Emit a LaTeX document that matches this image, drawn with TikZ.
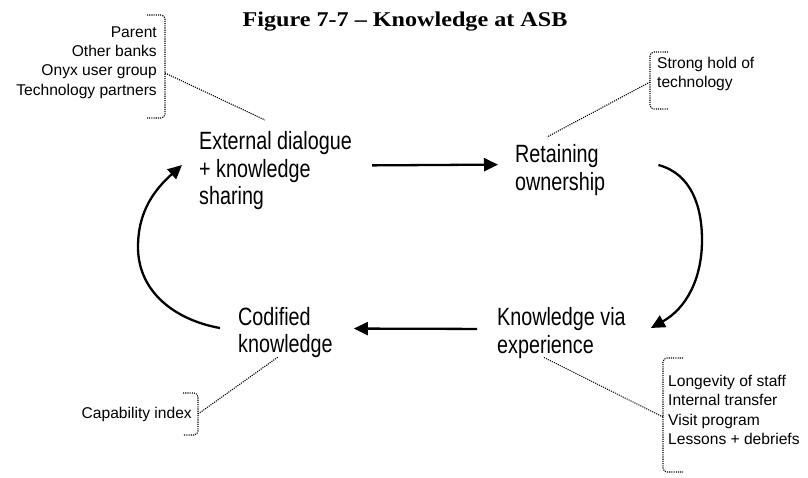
\documentclass[tikz,border=0pt]{standalone}
\usepackage{fontspec}
\setmainfont{Liberation Serif}
\newfontfamily\arialfont{Liberation Sans}
\newfontfamily\stagefont[FakeStretch=0.79]{Liberation Sans}
\newfontfamily\titlefont[FakeStretch=1.15,Ligatures=TeX]{Liberation Serif}
\usetikzlibrary{arrows.meta, positioning}

\begin{document}
\begin{tikzpicture}[x=1pt,y=1pt,>={Triangle[length=14pt,width=13pt]}]
	\tikzstyle{stage}=[inner sep=0, align=left, font=\stagefont\fontsize{25}{27.5}\selectfont]
	\tikzstyle{note}=[inner sep=0, font=\arialfont\fontsize{15.6}{19.3}\selectfont]
	\tikzstyle{flow}=[->, line width=2.3pt]
	\tikzstyle{pin}=[line width=1.1pt, dash pattern=on 1.1pt off 1.1pt]
	\tikzstyle{brace}=[pin, rounded corners=4pt]

    \useasboundingbox (0,0) rectangle (808,-477);

    \node [anchor=base, font=\titlefont\bfseries\fontsize{21}{24}\selectfont] (title) at (405,-26) {Figure 7-7 – Knowledge at ASB};

    % the four stages of the cycle
    \node [stage, anchor=west] (ext) at (199,-171) {External dialogue\\+ knowledge\\sharing};
    \node [stage, anchor=west] (ret) at (515,-170) {Retaining\\ownership};
    \node [stage, anchor=west] (kve) at (497,-333) {Knowledge via\\experience};
    \node [stage, anchor=west] (cod) at (238,-332.5) {Codified\\knowledge};

    \draw [flow, shorten <=20pt, shorten >=17pt] ([yshift=5.5pt]ext.east) -- ([yshift=5.5pt]ret.west);
    \draw [flow] ([xshift=53pt,yshift=5pt]ret.east) to[out=-15,in=90] (702,-240) to[out=-90,in=29] ([xshift=25pt,yshift=5pt]kve.east);
    \draw [flow, shorten <=20pt, shorten >=21pt] ([yshift=4pt]kve.west) -- ([yshift=4pt]cod.east);
    \draw [flow] ([xshift=-18pt,yshift=4.5pt]cod.west) to[out=170,in=-90] (138,-247) to[out=90,in=222] ([xshift=-17pt,yshift=6pt]ext.west);

    % notes with their dotted braces
    \node [note, align=right, anchor=east] (partners) at (157,-62.5) {Parent\\Other banks\\Onyx user group\\Technology partners};
    \node [note, align=left, anchor=west] (hold) at (657,-74) {Strong hold of\\technology};
    \node [note, anchor=east] (capability) at (192,-414) {Capability index};
    \node [note, align=left, anchor=west] (experience) at (668,-410) {Longevity of staff\\Internal transfer\\Visit program\\Lessons + debriefs};

    \draw [brace] (147,-15) -- (165,-15) -- (165,-118) -- (147,-118);
    \draw [brace] (668,-52) -- (650,-52) -- (650,-109) -- (668,-109);
    \draw [brace] (183,-393) -- (198,-393) -- (198,-435) -- (183,-435);
    \draw [brace] (683,-358) -- (663,-358) -- (663,-472) -- (683,-472);

    \coordinate (partnersbrace) at (165,-73);
    \coordinate (holdbrace) at (650,-82);
    \coordinate (capabilitybrace) at (198,-414);
    \coordinate (experiencebrace) at (663,-417);
    \coordinate (extpin) at (265,-120);
    \coordinate (retpin) at (547,-137);
    \coordinate (codpin) at (278,-357);
    \coordinate (kvepin) at (543,-357);

    \draw [pin] (partnersbrace) -- (extpin);
    \draw [pin] (holdbrace) -- (retpin);
    \draw [pin] (capabilitybrace) -- (codpin);
    \draw [pin] (experiencebrace) -- (kvepin);
\end{tikzpicture}
\end{document}
